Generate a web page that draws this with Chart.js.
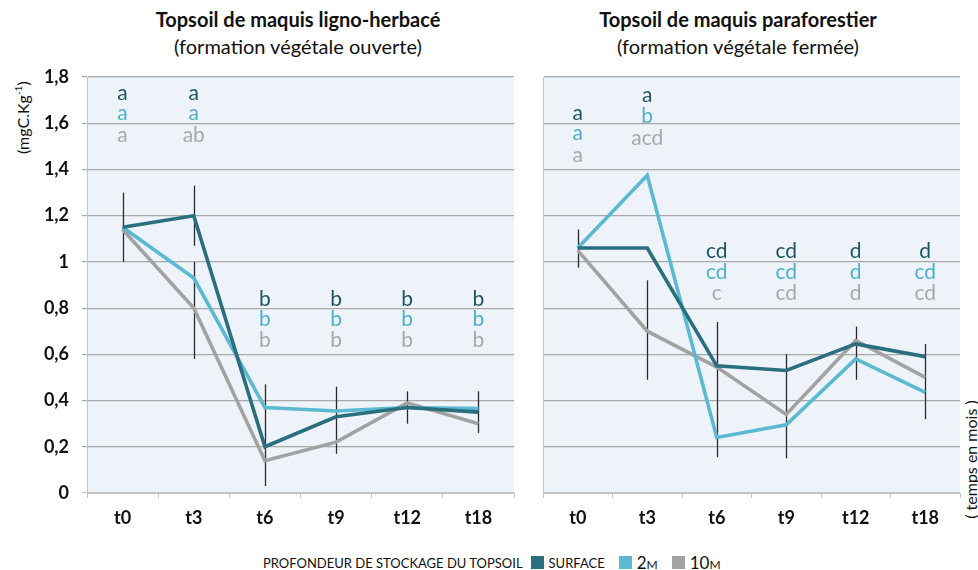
<!DOCTYPE html>
<html>
<head>
<meta charset="utf-8">
<script src="https://cdn.jsdelivr.net/npm/chart.js@4.4.1/dist/chart.umd.min.js"></script>
<style>
  body { margin: 0; width: 978px; height: 570px; background: #fff; position: relative; overflow: hidden; font-family: Lato, "Open Sans", sans-serif; color: #111; }
  canvas { position: absolute; top: 0; }
  .ttl { position: absolute; width: 440px; text-align: center; font-size: 20px; line-height: 27px; }
  .ttl b { display: block; }
  .rot { position: absolute; transform: rotate(-90deg); transform-origin: center; white-space: nowrap; font-size: 16px; }
  #legend { position: absolute; top: 552px; left: 263px; display: flex; align-items: center; font-size: 13px; white-space: nowrap; }
  #legend .sw { display: inline-block; width: 13px; height: 13px; margin: 0 5px 0 6px; }
  #legend .item { display: flex; align-items: center; margin-right: 8px; }
  .sc { font-variant: small-caps; font-size: 17px; }
</style>
</head>
<body>
<div class="ttl" style="left:78px; top:6px;"><b>Topsoil de maquis ligno-herbacé</b>(formation végétale ouverte)</div>
<div class="ttl" style="left:518px; top:6px;"><b>Topsoil de maquis paraforestier</b>(formation végétale fermée)</div>
<div class="rot" style="left:-26px; top:108px; width:96px; text-align:center;">(mgC.Kg<sup style="font-size:10px">-1</sup>)</div>
<div class="rot" style="left:898px; top:450px; width:144px; text-align:center;">( temps en mois )</div>

<canvas id="leftChart" width="520" height="545" style="left:0"></canvas>
<canvas id="rightChart" width="458" height="545" style="left:520px"></canvas>
<div id="legend"></div>

<script>
const categories = ['t0', 't3', 't6', 't9', 't12', 't18'];
const seriesNames = ['SURFACE', '2m', '10m'];
const seriesColors = ['#2b6e7d', '#5bb9d1', '#a2a2a2'];
const letterColors = ['#1e5565', '#4fb0cc', '#a8a8a8'];

// ligno-herbacé (open)
const surfaceOpen = [1.15, 1.20, 0.20, 0.33, 0.37, 0.35];
const twoMOpen = [1.15, 0.93, 0.37, 0.355, 0.37, 0.365];
const tenMOpen = [1.14, 0.80, 0.14, 0.22, 0.39, 0.30];
const errorsOpen = [[[1.0, 1.3]], [[1.07, 1.33], [0.58, 1.0]], [[0.03, 0.47]], [[0.17, 0.46]], [[0.30, 0.44]], [[0.26, 0.44]]];
const lettersOpen = [['a', 'a', 'a'], ['a', 'a', 'ab'], ['b', 'b', 'b'], ['b', 'b', 'b'], ['b', 'b', 'b'], ['b', 'b', 'b']];
const letterLevelsOpen = [[1.73, 1.645, 1.55], [1.73, 1.645, 1.55], [0.84, 0.75, 0.66], [0.84, 0.75, 0.66], [0.84, 0.75, 0.66], [0.84, 0.75, 0.66]];

// paraforestier (closed)
const surfaceClosed = [1.06, 1.06, 0.55, 0.53, 0.645, 0.59];
const twoMClosed = [1.06, 1.375, 0.24, 0.295, 0.58, 0.435];
const tenMClosed = [1.05, 0.70, 0.545, 0.34, 0.66, 0.50];
const errorsClosed = [[[0.975, 1.14]], [[0.49, 0.92]], [[0.155, 0.74]], [[0.15, 0.60]], [[0.49, 0.72]], [[0.32, 0.645]]];
const lettersClosed = [['a', 'a', 'a'], ['a', 'b', 'acd'], ['cd', 'cd', 'c'], ['cd', 'cd', 'cd'], ['d', 'd', 'd'], ['d', 'cd', 'cd']];
const letterLevelsClosed = [[1.645, 1.555, 1.46], [1.72, 1.63, 1.535], [1.045, 0.955, 0.865], [1.045, 0.955, 0.865], [1.045, 0.955, 0.865], [1.045, 0.955, 0.865]];

const yTicks = [0, 0.2, 0.4, 0.6, 0.8, 1, 1.2, 1.4, 1.6, 1.8];
const fontFamily = 'Lato, "Open Sans", sans-serif';

function makePlugins(errors, letters, levels) {
  return [{
    id: 'panelBg',
    beforeDraw(chart) {
      const a = chart.chartArea, ctx = chart.ctx;
      ctx.save();
      ctx.fillStyle = '#eef3fa';
      ctx.fillRect(a.left, a.top, a.right - a.left, a.bottom - a.top);
      ctx.restore();
    }
  }, {
    id: 'errorBars',
    beforeDatasetsDraw(chart) {
      const ctx = chart.ctx, x = chart.scales.x, y = chart.scales.y;
      ctx.save();
      ctx.strokeStyle = '#2a2a2a';
      ctx.lineWidth = 1.3;
      errors.forEach((bars, i) => {
        const px = Math.round(x.getPixelForValue(i)) + 0.5;
        bars.forEach(([lo, hi]) => {
          ctx.beginPath();
          ctx.moveTo(px, y.getPixelForValue(lo));
          ctx.lineTo(px, y.getPixelForValue(hi));
          ctx.stroke();
        });
      });
      ctx.restore();
    }
  }, {
    id: 'letters',
    afterDatasetsDraw(chart) {
      const ctx = chart.ctx, x = chart.scales.x, y = chart.scales.y;
      ctx.save();
      ctx.font = '21px ' + fontFamily;
      ctx.textAlign = 'center';
      ctx.textBaseline = 'middle';
      letters.forEach((group, i) => {
        group.forEach((txt, k) => {
          ctx.fillStyle = letterColors[k];
          ctx.fillText(txt, x.getPixelForValue(i), y.getPixelForValue(levels[i][k]));
        });
      });
      ctx.restore();
    }
  }];
}

function buildChart(id, series, errors, letters, levels, isLeft) {
  const ctx = document.getElementById(id).getContext('2d');
  return new Chart(ctx, {
    type: 'line',
    data: {
      labels: categories,
      datasets: series.map((data, k) => ({
        label: seriesNames[k],
        data: data,
        borderColor: seriesColors[k],
        backgroundColor: seriesColors[k],
        borderWidth: 3.6,
        pointRadius: 0,
        tension: 0,
      })),
    },
    options: {
      responsive: false,
      animation: false,
      layout: { padding: { top: 77, bottom: 0, left: 0, right: isLeft ? 6 : 18 } },
      plugins: { legend: { display: false }, tooltip: { enabled: false } },
      scales: {
        x: {
          offset: true,
          grid: { display: true, offset: true, drawOnChartArea: false, drawTicks: true, tickLength: 5, color: '#c4c4c4' },
          border: { color: '#c4c4c4' },
          ticks: { color: '#111', padding: 9, font: { family: fontFamily, size: 18, weight: 'bold' } },
          afterFit(scale) { scale.height = 52; },
        },
        y: {
          min: 0,
          max: 1.8,
          afterBuildTicks(scale) { scale.ticks = yTicks.map(v => ({ value: v })); },
          grid: {
            color: (c) => (c.tick && c.tick.value === 0 ? '#c4c4c4' : '#a8a8a8'),
            lineWidth: 1.2,
            drawTicks: isLeft,
            tickLength: 5,
          },
          border: { color: '#c4c4c4' },
          ticks: {
            display: isLeft,
            padding: 13,
            color: '#111',
            font: { family: fontFamily, size: 18, weight: 'bold' },
            callback: (v) => String(Number(v.toFixed(1))).replace('.', ','),
          },
          afterFit(scale) { scale.width = isLeft ? 87 : 23; },
        },
      },
    },
    plugins: makePlugins(errors, letters, levels),
  });
}

buildChart('leftChart', [surfaceOpen, twoMOpen, tenMOpen], errorsOpen, lettersOpen, letterLevelsOpen, true);
buildChart('rightChart', [surfaceClosed, twoMClosed, tenMClosed], errorsClosed, lettersClosed, letterLevelsClosed, false);

// legend
const legend = document.getElementById('legend');
let html = '<span style="margin-right:2px">PROFONDEUR DE STOCKAGE DU TOPSOIL</span>';
seriesNames.forEach((name, k) => {
  const label = name === 'SURFACE' ? name : '<span class="sc">' + name + '</span>';
  html += '<span class="item"><span class="sw" style="background:' + seriesColors[k] + '"></span>' + label + '</span>';
});
legend.innerHTML = html;
</script>
</body>
</html>
